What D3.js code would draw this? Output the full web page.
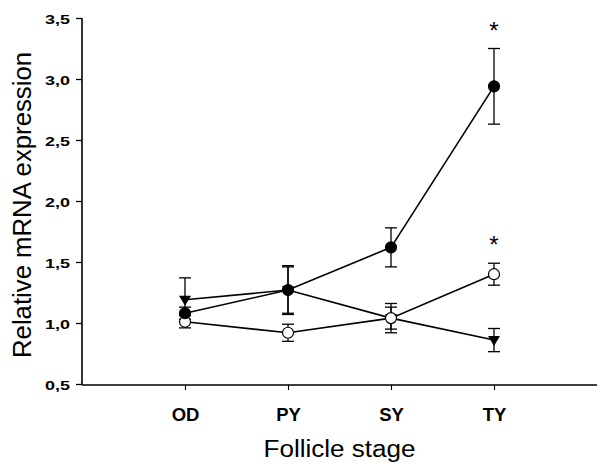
<!DOCTYPE html>
<html>
<head>
<meta charset="utf-8">
<script src="https://cdn.jsdelivr.net/npm/d3@7"></script>
<style>
  body { margin: 0; background: #fff; }
  svg { display: block; font-family: "Liberation Sans", Arial, sans-serif; }
</style>
</head>
<body>
<svg id="chart" width="600" height="470"></svg>
<script>
const categories = ["OD", "PY", "SY", "TY"];
const filledValues = [1.08, 1.27, 1.62, 2.94];
const filledErrors = [0.05, 0.19, 0.16, 0.31];
const openValues = [1.01, 0.92, 1.04, 1.40];
const openErrors = [0.05, 0.07, 0.09, 0.09];
const triangleValues = [1.19, 1.27, 1.04, 0.86];
const triangleErrors = [0.18, 0.20, 0.12, 0.095];
const yTicks = [0.5, 1.0, 1.5, 2.0, 2.5, 3.0, 3.5];
const significant = [
  { series: "filled", index: 3 },
  { series: "open", index: 3 }
];

(function () {
const svg = d3.select("#chart");
const mLeft = 82, mRight = 597, mTop = 18, mBottom = 384;

const x = d3.scaleLinear().domain([-1, 4]).range([mLeft, mRight]);
const y = d3.scaleLinear().domain([0.5, 3.5]).range([mBottom, mTop]);

// Y axis
const yAxis = d3.axisLeft(y).tickValues(yTicks).tickSize(6).tickPadding(6)
  .tickFormat(d => d3.format(".1f")(d).replace(".", ","));
const gy = svg.append("g").attr("transform", `translate(${mLeft},0)`).call(yAxis);
gy.select(".domain").attr("stroke-width", 1.6).attr("d", `M0,${mTop}V${mBottom + 1}`);
gy.selectAll(".tick line").attr("stroke-width", 1.3);
gy.selectAll("text").attr("font-size", 13.5).attr("font-weight", "bold").attr("fill", "#000")
  .attr("dy", "0.38em")
  .attr("textLength", 25).attr("lengthAdjust", "spacingAndGlyphs");

// X axis
const xAxis = d3.axisBottom(x).tickValues([0, 1, 2, 3]).tickSize(5).tickPadding(18)
  .tickFormat(i => categories[i]);
const gx = svg.append("g").attr("transform", `translate(0,${mBottom + 1})`).call(xAxis);
gx.select(".domain").attr("stroke-width", 1.6).attr("d", `M${mLeft},0H${mRight}`);
gx.selectAll(".tick line").attr("stroke-width", 1.1);
gx.selectAll("text").attr("font-size", 18.5).attr("font-weight", "bold").attr("fill", "#000");

// Axis titles
svg.append("text").attr("x", x(1.5)).attr("y", 457).attr("text-anchor", "middle")
  .attr("font-size", 23).attr("textLength", 152).attr("lengthAdjust", "spacingAndGlyphs")
  .text("Follicle stage");
svg.append("text").attr("transform", `translate(31,205) rotate(-90)`)
  .attr("text-anchor", "middle").attr("font-size", 26)
  .attr("textLength", 306).attr("lengthAdjust", "spacingAndGlyphs")
  .text("Relative mRNA expression");

const series = [
  { key: "triangle", values: triangleValues, errors: triangleErrors },
  { key: "open", values: openValues, errors: openErrors },
  { key: "filled", values: filledValues, errors: filledErrors }
];

const plot = svg.append("g");
const capHalf = 6;

// error bars
series.forEach(s => {
  s.values.forEach((v, i) => {
    const e = s.errors[i];
    const g = plot.append("g").attr("stroke", "#000").attr("stroke-width", 1.3);
    g.append("line").attr("x1", x(i)).attr("x2", x(i)).attr("y1", y(v + e)).attr("y2", y(v - e));
    g.append("line").attr("x1", x(i) - capHalf).attr("x2", x(i) + capHalf).attr("y1", y(v + e)).attr("y2", y(v + e));
    g.append("line").attr("x1", x(i) - capHalf).attr("x2", x(i) + capHalf).attr("y1", y(v - e)).attr("y2", y(v - e));
  });
});

// lines
const line = d3.line().x((d, i) => x(i)).y(d => y(d));
series.forEach(s => {
  plot.append("path").attr("d", line(s.values)).attr("fill", "none")
    .attr("stroke", "#000").attr("stroke-width", 1.6);
});

// markers
series.forEach(s => {
  s.values.forEach((v, i) => {
    if (s.key === "triangle") {
      const cx = x(i), cy = y(v);
      plot.append("path")
        .attr("d", `M${cx - 6},${cy - 4}L${cx + 6},${cy - 4}L${cx},${cy + 6}Z`)
        .attr("fill", "#000");
    } else {
      plot.append("circle").attr("cx", x(i)).attr("cy", y(v)).attr("r", 5.5)
        .attr("fill", s.key === "filled" ? "#000" : "#fff")
        .attr("stroke", "#000").attr("stroke-width", 1.2);
    }
  });
});

// significance asterisks
significant.forEach(sg => {
  const s = series.find(d => d.key === sg.series);
  const v = s.values[sg.index] + s.errors[sg.index];
  svg.append("text").attr("x", x(sg.index)).attr("y", y(v) - 10)
    .attr("text-anchor", "middle").attr("font-size", 24).text("*");
});
})();
</script>
</body>
</html>
